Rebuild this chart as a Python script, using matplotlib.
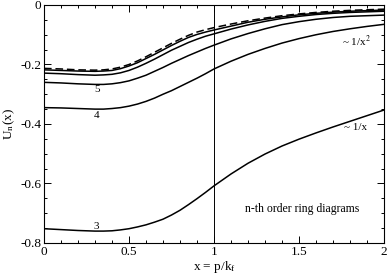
import matplotlib
matplotlib.use("Agg")
from matplotlib import pyplot as plt
from matplotlib.ticker import MultipleLocator

plt.rcParams['font.family'] = ['Liberation Serif', 'DejaVu Serif']
plt.rcParams['mathtext.fontset'] = 'stix'

# x = p/k_f sample points
x = [0.0, 0.1, 0.2, 0.3, 0.35, 0.4, 0.45, 0.5, 0.55, 0.6, 0.65, 0.7, 0.75, 0.8, 0.85,
     0.9, 0.95, 1.0, 1.1, 1.2, 1.3, 1.4, 1.5, 1.6, 1.7, 1.8, 1.9, 2.0]

# n-th order ring diagrams
u3 = [-0.752, -0.755, -0.758, -0.760, -0.760, -0.759, -0.756, -0.752, -0.746, -0.739, -0.730,
      -0.720, -0.706, -0.690, -0.671, -0.651, -0.630, -0.608, -0.568, -0.532, -0.501, -0.474,
      -0.451, -0.430, -0.410, -0.391, -0.372, -0.353]
u4 = [-0.345, -0.346, -0.348, -0.350, -0.350, -0.348, -0.345, -0.340, -0.333, -0.324, -0.313,
      -0.300, -0.288, -0.274, -0.260, -0.246, -0.231, -0.215, -0.189, -0.166, -0.146, -0.128,
      -0.113, -0.100, -0.089, -0.080, -0.072, -0.065]
u5 = [-0.260, -0.262, -0.265, -0.267, -0.267, -0.265, -0.261, -0.255, -0.246, -0.236, -0.223,
      -0.210, -0.196, -0.183, -0.170, -0.158, -0.146, -0.135, -0.114, -0.096, -0.080, -0.066,
      -0.056, -0.048, -0.042, -0.038, -0.036, -0.034]
u6 = [-0.229, -0.231, -0.234, -0.236, -0.235, -0.233, -0.228, -0.220, -0.209, -0.196, -0.182,
      -0.167, -0.152, -0.139, -0.126, -0.115, -0.105, -0.097, -0.081, -0.067, -0.055, -0.045,
      -0.038, -0.032, -0.028, -0.025, -0.023, -0.021]
u7 = [-0.218, -0.220, -0.222, -0.223, -0.222, -0.220, -0.214, -0.205, -0.194, -0.180, -0.166,
      -0.151, -0.136, -0.122, -0.109, -0.099, -0.091, -0.084, -0.071, -0.058, -0.048, -0.040,
      -0.033, -0.028, -0.024, -0.021, -0.019, -0.017]
u_inf = [-0.213, -0.215, -0.218, -0.219, -0.218, -0.215, -0.209, -0.200, -0.188, -0.174, -0.159,
         -0.144, -0.129, -0.115, -0.102, -0.091, -0.083, -0.076, -0.064, -0.053, -0.044, -0.036,
         -0.030, -0.025, -0.021, -0.018, -0.016, -0.014]

fig = plt.figure(figsize=(3.88, 2.76), dpi=100)
ax = fig.add_axes([0.1134, 0.1196, 0.8763, 0.8623])

for u in [u3, u4, u5, u6, u7]:
    ax.plot(x, u, color='black', lw=1.1)
ax.plot(x, u_inf, color='black', lw=1.1, dashes=(5, 2.5))
ax.axvline(1.0, color='black', lw=0.7)

ax.text(0.31, -0.283, '5', fontsize=8, ha='center', va='center')
ax.text(0.31, -0.371, '4', fontsize=8, ha='center', va='center')
ax.text(0.31, -0.744, '3', fontsize=8, ha='center', va='center')
ax.text(1.84, -0.123, r'~ 1/x$^2$', fontsize=8, ha='center', va='center')
ax.text(1.83, -0.412, '~ 1/x', fontsize=8, ha='center', va='center')
ax.text(1.52, -0.686, 'n-th order ring diagrams', fontsize=8.5, ha='center', va='center')

ax.set_xlim(0, 2)
ax.set_ylim(-0.8, 0)
ax.xaxis.set_minor_locator(MultipleLocator(0.1))
ax.yaxis.set_minor_locator(MultipleLocator(0.05))
ax.set_xticks([0, 0.5, 1, 1.5, 2])
ax.set_xticklabels(['0', '0.5', '1', '1.5', '2'])
ax.set_yticks([-0.8, -0.6, -0.4, -0.2, 0])
ax.set_yticklabels(['-0.8', '-0.6', '-0.4', '-0.2', '0'])
ax.tick_params(which='both', direction='in', top=True, right=True, labelsize=9.5)
ax.tick_params(which='major', length=5, width=0.7)
ax.tick_params(which='minor', length=2.5, width=0.7)
ax.tick_params(axis='x', pad=2)
ax.tick_params(axis='y', pad=2)
for s in ax.spines.values():
    s.set_linewidth(0.8)

ax.set_xlabel(r'x = p/k$_\mathregular{f}$', fontsize=9.5, labelpad=1)
ax.set_ylabel(r'U$_\mathregular{n}$(x)', fontsize=9.5, labelpad=2)

fig.savefig('out.png', dpi=100)
